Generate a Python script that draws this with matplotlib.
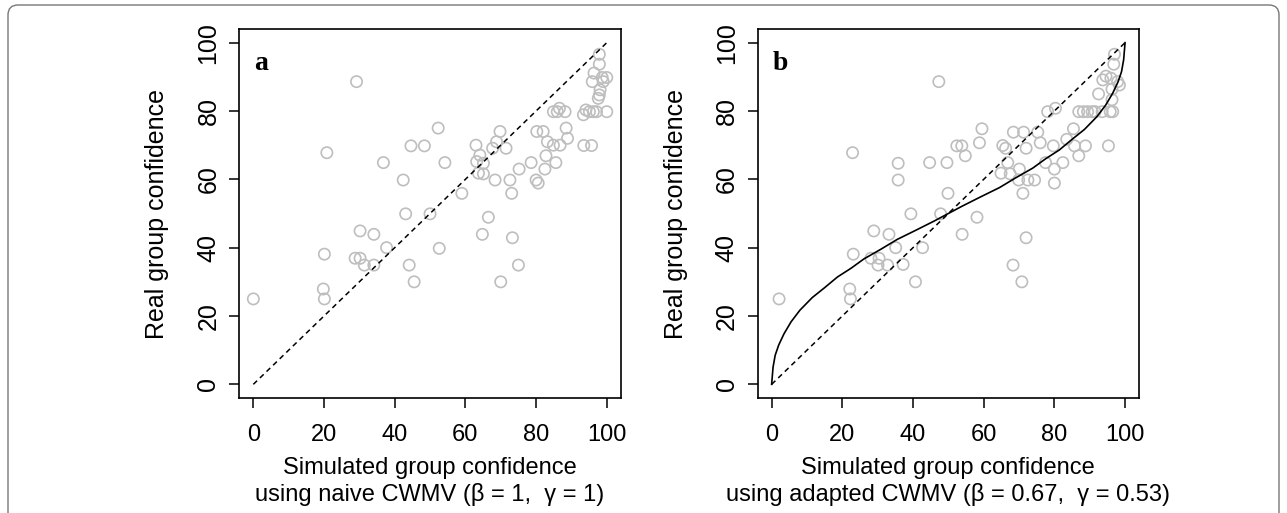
import matplotlib
matplotlib.use('Agg')
import matplotlib.pyplot as plt
from matplotlib import font_manager
from matplotlib.patches import FancyBboxPatch

# panel a: naive CWMV
naive_x = [0, 20.1, 19.8, 20.1, 20.8, 29.2, 28.8, 30.2, 30.2, 31.4, 34.1, 34.1, 36.8, 37.7,
           42.4, 43.1, 44.1, 44.6, 45.5, 48.4, 50, 52.3, 52.6, 54.2, 59, 63, 64.1, 63.2,
           65.1, 63.7, 65.1, 64.8, 66.5, 67.7, 68.8, 69.8, 68.4, 71.5, 70, 72.6, 73.1, 73.3,
           75, 75.2, 78.6, 80, 80.6, 80.2, 82, 82.5, 82.8, 83.2, 84.9, 86.8, 85.6, 84.9,
           86, 86.6, 88.2, 88.5, 88.9, 93.5, 95.7, 93.4, 94.1, 95.1, 96.2, 97.1, 100, 97.9,
           97.9, 96.4, 95.9, 98.7, 100, 99, 98.1, 97.9, 97.6]
naive_y = [25, 38.1, 27.9, 25, 67.8, 88.6, 36.9, 36.9, 44.9, 34.9, 43.9, 34.9, 64.9, 40,
           59.8, 49.9, 34.9, 69.8, 30, 69.8, 49.9, 75, 39.8, 64.9, 55.9, 70, 67.1, 65.2,
           64.7, 61.8, 61.6, 43.9, 48.9, 69.1, 71, 74, 59.8, 69.1, 30, 59.8, 55.9, 42.9,
           34.9, 63, 64.9, 59.8, 58.9, 74, 74, 63, 66.9, 71, 70, 70, 64.9, 79.8,
           79.8, 80.8, 79.8, 75, 72, 69.9, 69.9, 78.9, 80.3, 79.8, 79.8, 79.8, 79.8, 96.6,
           93.7, 91.1, 88.6, 89.8, 89.8, 88.6, 86.2, 84.7, 83.7]

# panel b: adapted CWMV
adapted_x = [2.1, 22.1, 22.3, 23.1, 22.9, 28.9, 33.2, 28.1, 30.4, 30.1, 32.8, 35.1, 37.2, 39.4,
             40.7, 42.7, 35.8, 35.8, 44.7, 47.8, 58.1, 53.9, 72, 68.3, 70.8, 47.3, 49.6, 49.9,
             52.4, 53.8, 54.8, 59.5, 58.8, 65.4, 66.2, 68.4, 71.3, 66.8, 64.9, 67.5, 70.1, 72,
             75.3, 76, 69.9, 72.5, 74.4, 71.1, 77.5, 80, 80, 82.4, 79.7, 83.5, 85.4, 85.7,
             86.9, 88.8, 95.3, 78.1, 80.3, 86.9, 88.2, 89.4, 90.7, 91.5, 93.5, 95.8, 96.5, 97,
             96.8, 94.6, 93.7, 96, 97.9, 98.4, 92.5, 96.3, 96.3]
adapted_y = [25, 27.9, 25, 38.1, 67.8, 44.9, 43.9, 36.9, 36.9, 34.9, 34.9, 40, 35.1, 49.9,
             30, 40, 64.7, 59.8, 64.9, 49.9, 48.9, 43.9, 42.9, 34.9, 30, 88.6, 64.9, 55.9,
             69.8, 69.8, 66.9, 74.8, 70.7, 69.9, 69.1, 73.8, 73.8, 64.9, 61.8, 61.6, 63, 69.1,
             73.8, 70.7, 59.8, 59.8, 59.8, 55.9, 64.9, 63, 58.9, 64.9, 69.8, 71.7, 74.8, 69.8,
             66.9, 69.8, 69.8, 79.8, 80.8, 79.8, 79.8, 79.8, 79.8, 79.8, 79.8, 79.8, 79.8, 96.6,
             93.7, 90.2, 89.1, 89.6, 88.6, 87.6, 85, 86.4, 83.3]

# fitted mapping curve in panel b
curve_x = [0, 0.4, 1.0, 2.0, 3.5, 5.5, 8, 11.5, 15, 18.6, 22.5, 26.1, 31, 35.5, 41, 46, 50,
           54, 59, 64.5, 69, 73.9, 77.5, 81.4, 85, 88.5, 92, 94.5, 96.5, 98, 99, 99.6, 100]
curve_y = [0, 5, 8.5, 11.5, 14.8, 18.3, 21.7, 25.4, 28.3, 31.4, 34, 36.7, 39.6, 42.4, 45.2,
           47.8, 50, 52.2, 54.8, 57.6, 60.4, 63.3, 66, 68.6, 71.7, 74.6, 78.3, 81.7, 85.2,
           88.5, 91.5, 95, 100]

ticks = [0, 20, 40, 60, 80, 100]
xlabels = ['using naive CWMV (\u03b2 = 1,  \u03b3 = 1)',
           'using adapted CWMV (\u03b2 = 0.67,  \u03b3 = 0.53)']

W, H = 1287, 513
names = {f.name for f in font_manager.fontManager.ttflist}
tick_font = 'Liberation Sans Narrow' if 'Liberation Sans Narrow' in names else 'Liberation Sans'
plt.rcParams['font.family'] = ['Liberation Sans', 'DejaVu Sans']

fig = plt.figure(figsize=(W / 100, H / 100), dpi=100)

# rounded frame around the figure
frame = FancyBboxPatch((8, -40), 1271, 548, boxstyle='round,pad=0,rounding_size=10',
                       transform=None, fill=False, edgecolor='#777777', linewidth=1)
fig.add_artist(frame)


def panel(left, letter, xs, ys, xlab):
    right = left + 381.7
    top, bottom = 29, 398
    ax = fig.add_axes([left / W, 1 - bottom / H, (right - left) / W, (bottom - top) / H])
    ax.scatter(xs, ys, s=66, facecolors='none', edgecolors='#bebebe', linewidths=1.2, zorder=2)
    ax.plot([0, 100], [0, 100], color='black', lw=1.1, dashes=(3.4, 2.6), zorder=3)
    ax.set_xlim(-4, 104)
    ax.set_ylim(-4, 104)
    ax.set_xticks(ticks)
    ax.set_yticks(ticks)
    for sp in ax.spines.values():
        sp.set_linewidth(1.2)
    ax.tick_params(length=7.5, width=1.1, direction='out')
    ax.tick_params(axis='x', pad=11)
    ax.tick_params(axis='y', pad=6)
    for lab in ax.get_xticklabels():
        lab.set_fontfamily(tick_font)
        lab.set_fontsize(17)
    for lab in ax.get_yticklabels():
        lab.set_fontfamily(tick_font)
        lab.set_fontsize(18)
        lab.set_rotation(90)
        lab.set_va('center')
    ax.text(0.2, 92, letter, fontfamily='Liberation Serif', fontweight='bold', fontsize=20,
            ha='left', va='baseline')
    cx = (left + right) / 2
    fig.text(cx / W, 1 - 468 / H, 'Simulated group confidence', fontsize=17, ha='center', va='center')
    fig.text(cx / W, 1 - 495 / H, xlab, fontsize=17, ha='center', va='center')
    fig.text((left - 82) / W, 1 - 213.5 / H, 'Real group confidence', fontsize=18,
             rotation=90, ha='center', va='center')
    return ax


ax1 = panel(239.2, 'a', naive_x, naive_y, xlabels[0])
ax2 = panel(757.5, 'b', adapted_x, adapted_y, xlabels[1])
ax2.plot(curve_x, curve_y, color='black', lw=1.2, zorder=3)

fig.savefig('out.png', dpi=100)
